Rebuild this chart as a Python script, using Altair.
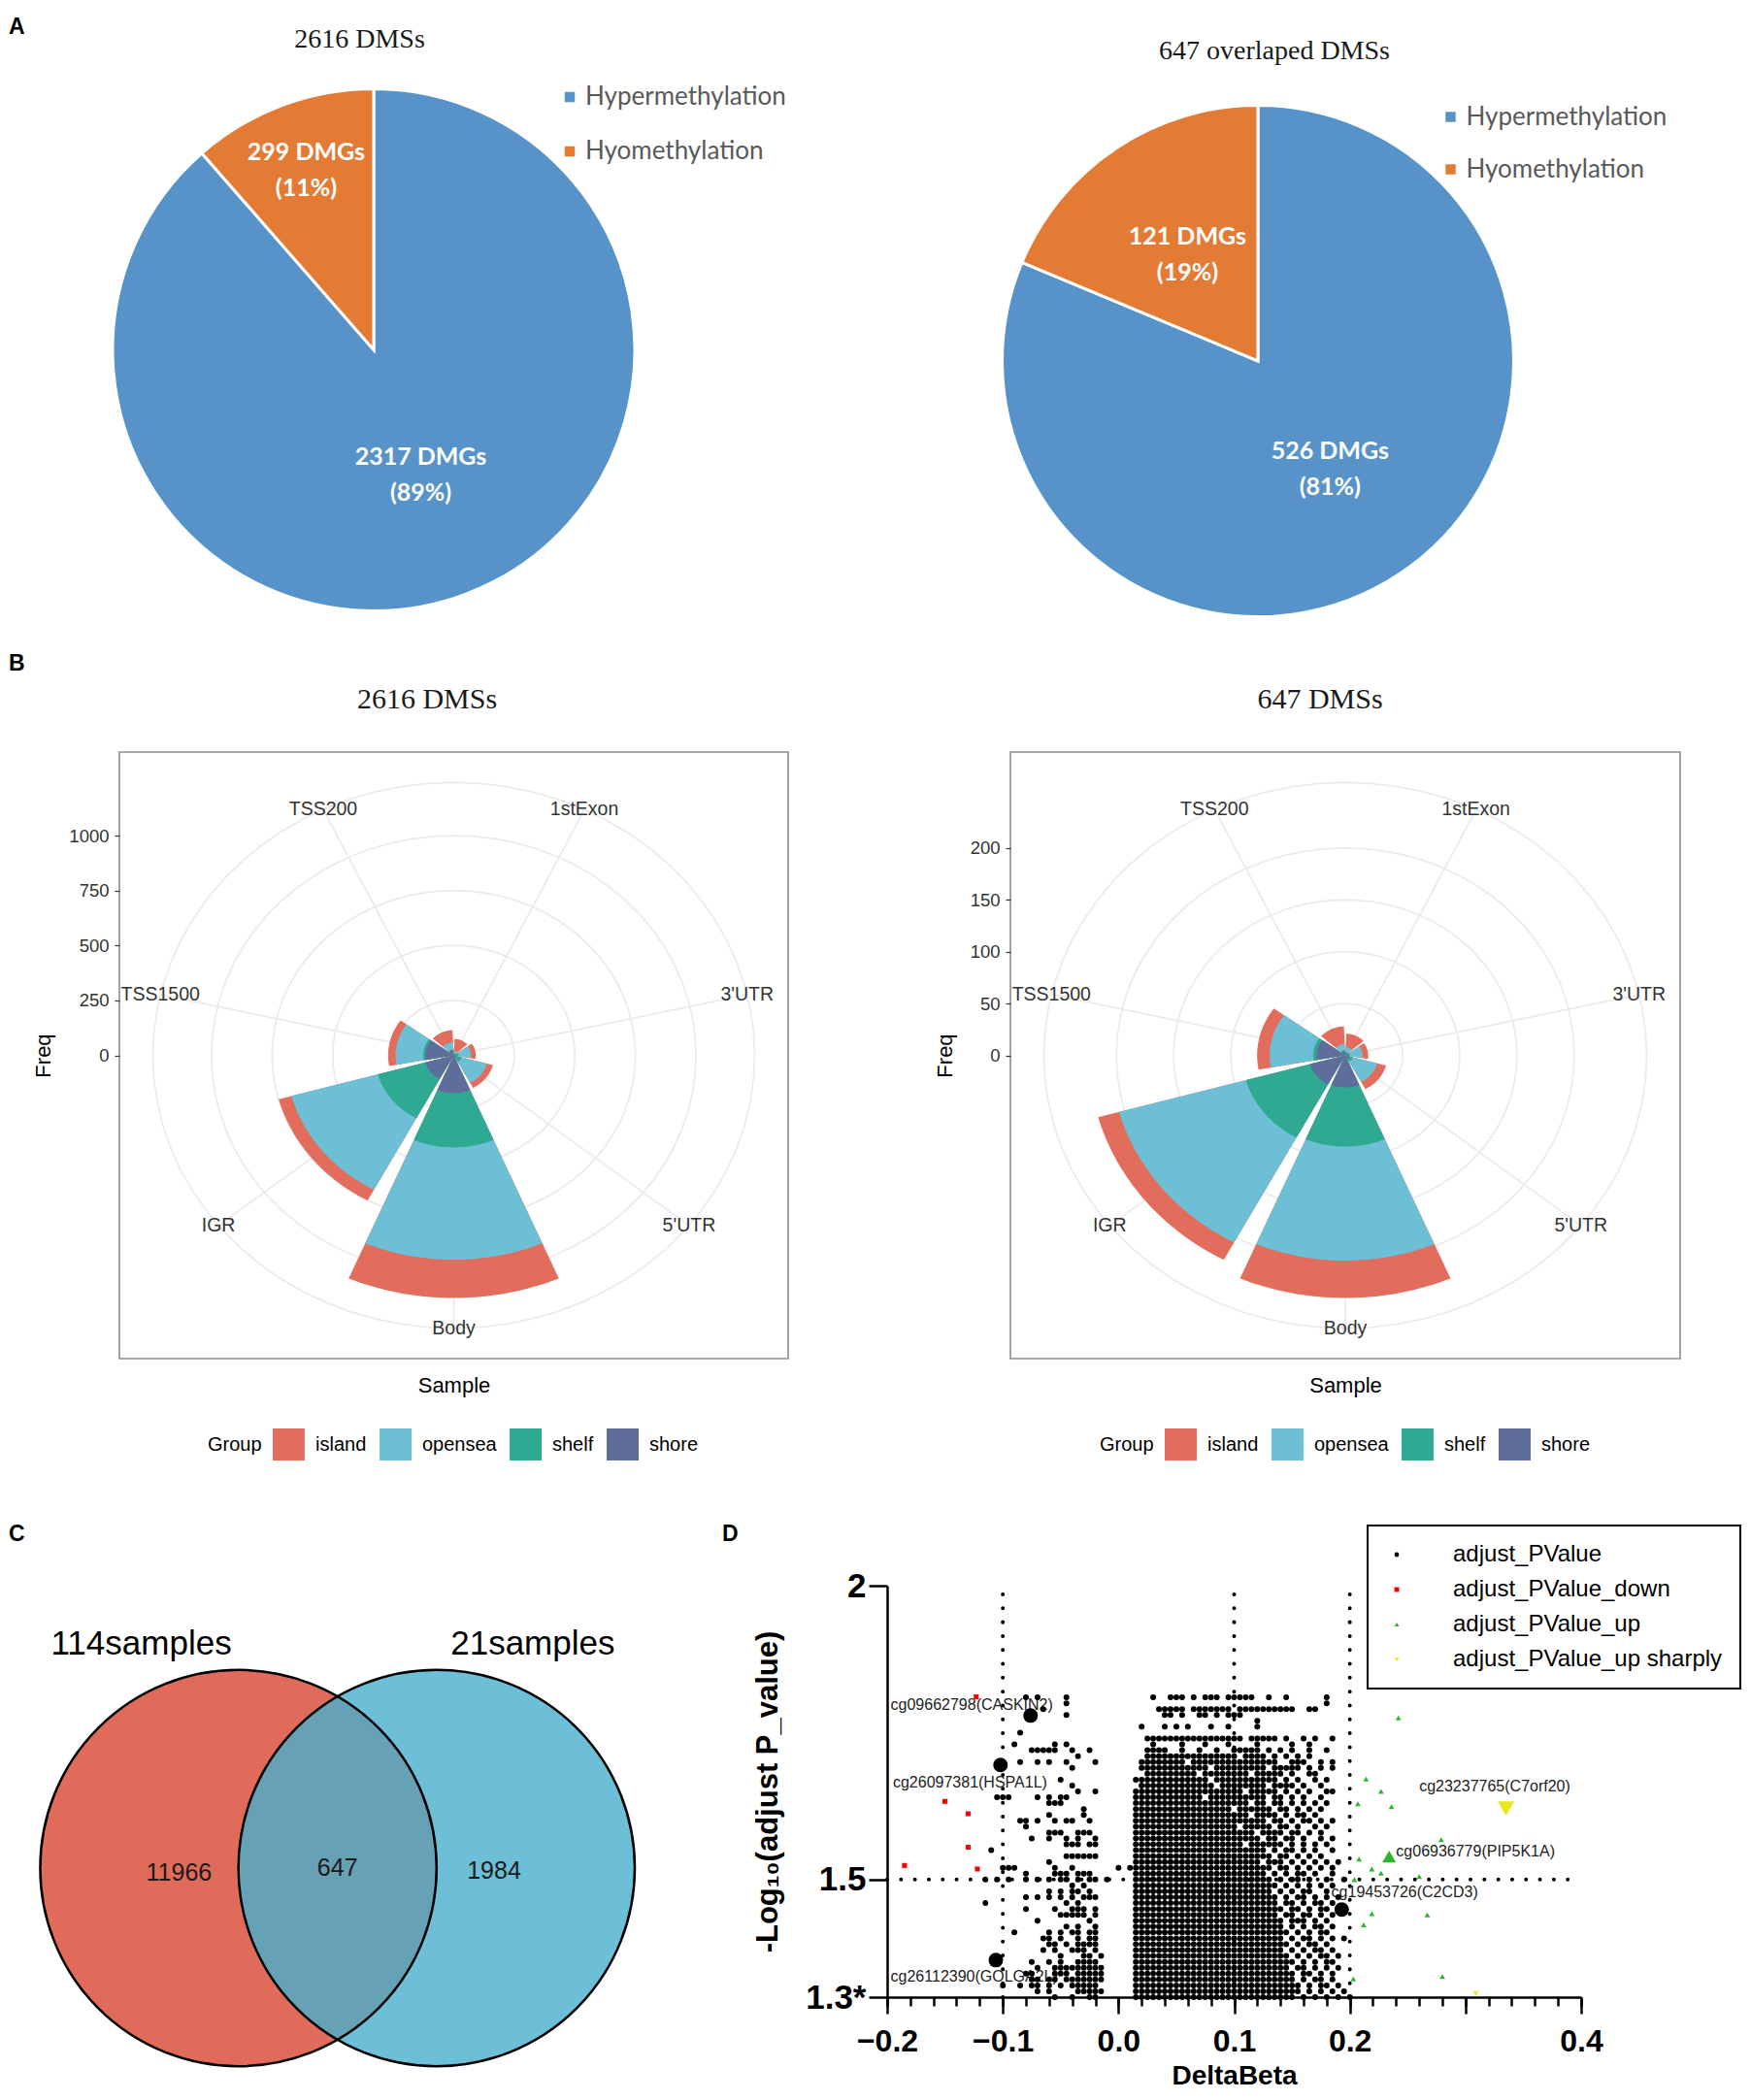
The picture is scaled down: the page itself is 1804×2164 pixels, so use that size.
import altair as alt
import pandas as pd

SANS = "Liberation Sans"
SERIF = "Liberation Serif"
PIEFONT = "Lato"

# ============================ DATA ============================
# ---- A: pie charts ----
pie_categories = ["Hypermethylation", "Hyomethylation"]
pie_counts_2616 = [2317, 299]
pie_counts_647 = [526, 121]
pie_titles = ["2616 DMSs", "647 overlaped DMSs"]

# ---- B: polar stacked bars ----
regions = ["1stExon", "3'UTR", "5'UTR", "Body", "IGR", "TSS1500", "TSS200"]
groups = ["island", "opensea", "shelf", "shore"]
freq_2616 = {
    "shore":   [5, 10, 12, 172, 122, 117, 25],
    "shelf":   [3, 10, 22, 247, 203, 9, 2],
    "opensea": [12, 51, 108, 511, 370, 114, 33],
    "island":  [55, 20, 26, 174, 55, 31, 55],
}
freq_647 = {
    "shore":   [2, 3, 4, 31, 32, 25, 4],
    "shelf":   [1, 1, 3, 57, 58, 3, 1],
    "opensea": [5, 11, 22, 110, 115, 38, 6],
    "island":  [13, 5, 8, 36, 19, 11, 17],
}
freq_ticks_2616 = [0, 250, 500, 750, 1000]
freq_ticks_647 = [0, 50, 100, 150, 200]
polar_titles = ["2616 DMSs", "647 DMSs"]

# ---- C: Venn ----
venn_sets = ["114samples", "21samples"]
venn_counts = [11966, 647, 1984]          # only-114, overlap, only-21

# ---- D: volcano ----
volcano_types = ["adjust_PValue", "adjust_PValue_down", "adjust_PValue_up", "adjust_PValue_up sharply"]
# black points read row by row: -log10(adj p) level, DeltaBeta columns (col c -> -0.125 + 0.005*c)
DB_START, DB_STEP = -0.125, 0.005
volcano_rows = [
    (1.81, "9 11 16 31 34-36 38 40-42 44-48 51 54 61"),
    (1.80, "16 61"),
    (1.79, "12 32-36 38-44 46-55 58 59"),
    (1.78, "16 33 34 36 39 40 42 44-46"),
    (1.77, "49"),
    (1.76, "29 33 35 37 41 44 49"),
    (1.75, "8"),
    (1.74, "30-46 48-52 54 57 59 62"),
    (1.73, "7 14 16 31 36 40 44 49 55 58"),
    (1.72, "10-14 17 20 30-33 36 39 42 45-49 51 53 55 58 61"),
    (1.71, "18 30-45 47-50 52 54 56 58"),
    (1.70, "8 11 13 16 21 29-36 38-52 55-57 60 62"),
    (1.69, "17 29-40 42-50 52-56 58 60 62"),
    (1.68, "30-38 40-47 49-53 55 58 59"),
    (1.67, "15 28-40 42-52 54 56 59 61"),
    (1.66, "17 29-41 43-50 52-55 57 60"),
    (1.65, "18 21 28-46 48-52 54 56 58 61 62"),
    (1.64, "4-6 11 13 15 16 28-39 41-50 52 53 55 57 60"),
    (1.63, "13-15 28-47 49 50 52 53 55 57 59 61"),
    (1.62, "19 28-44 46-51 53 54 56 58 60"),
    (1.61, "13 19 28-47 49-52 54 56 57 59"),
    (1.60, "8 9 11 14 16 17 20 28-50 52 53 55 57 58 60 62"),
    (1.59, "9 28-45 47-51 53 54 56 59 61"),
    (1.58, "13-15 18-20 28-48 50-53 55 56 58 60"),
    (1.57, "10 13 16 18 21 28-49 51 52 54 55 57 60 62"),
    (1.56, "16-18 20 21 28-46 48-53 55 57 59 61"),
    (1.55, "3 28-50 52 54 55 57 59 62"),
    (1.54, "16-21 28-51 53 54 56 58 60"),
    (1.53, "13 28-49 51-53 55 57 59 61 63"),
    (1.52, "5-7 14 17 25 27-51 53 54 56 58 60 62"),
    (1.51, "9 14-16 18-20 28-50 52 54 56 57 59 62"),
    (1.50, "2 4 6 9 11 13 15 16 18 20 21 23 28-51 53 55 56 58 61 64"),
    (1.49, "17 19 28-52 54 56 58 60 62"),
    (1.48, "13 15 17 18 20 28-51 53 55 57 58 61"),
    (1.47, "9 11 13 15 17 19-21 28-52 54 56 57 59 61 63"),
    (1.46, "2 16 18 28-52 54 55 57 59 60 62"),
    (1.45, "9 14 17-19 21 28-53 55 56 58 60 61"),
    (1.44, "15-19 21 28-52 54 55 57 58 60 62"),
    (1.43, "11 20 28-53 55 56 57 59 61"),
    (1.42, "16 18 21 28-53 55 57 59 60 62"),
    (1.41, "7 13 15 17 18 20 21 28-54 56 58 60 61"),
    (1.40, "12 13 15 18 20 21 28-53 55 57 58 60 62 64"),
    (1.39, "13 14 16 18-21 28-54 56 58 59 61"),
    (1.38, "12 14 17-19 21 28-53 55 57 59 60 62"),
    (1.37, "15 19 20 22 28-54 56 58 60 61 63"),
    (1.36, "10 13 15 18-21 28-55 57 59 61 62"),
    (1.35, "11 14-22 28-54 56 57 59 61 63"),
    (1.34, "9 10 14-16 18-22 28-55 57 58 60 62"),
    (1.33, "10 11 13 14 16-22 28-55 57 59 60 62"),
    (1.32, "5 8 10 11 13 15 17-21 28-56 58 60 61 63"),
    (1.31, "11 13 18-22 28-56 58 60 62 64"),
    (1.30, "14 17 20 21 28-55 57 59 61 63 65"),
]
down_delta = [-0.123, -0.150, -0.130, -0.130, -0.122, -0.185]
down_logp = [1.811, 1.633, 1.612, 1.555, 1.518, 1.524]
up_delta = [0.242, 0.214, 0.227, 0.207, 0.236, 0.279, 0.208, 0.219, 0.227, 0.260, 0.204, 0.219, 0.267, 0.212, 0.203, 0.280]
up_logp = [1.775, 1.671, 1.650, 1.629, 1.624, 1.568, 1.535, 1.518, 1.511, 1.505, 1.500, 1.442, 1.440, 1.423, 1.331, 1.335]
sharp_delta = [0.309]
sharp_logp = [1.306]
hl_probe = ["cg09662798(CASKIN2)", "cg26097381(HSPA1L)", "cg26112390(GOLGA2L)",
            "cg19453726(C2CD3)", "cg06936779(PIP5K1A)", "cg23237765(C7orf20)"]
hl_delta = [-0.076, -0.102, -0.106, 0.193, 0.234, 0.335]
hl_logp = [1.779, 1.695, 1.363, 1.449, 1.539, 1.621]
hl_type = ["adjust_PValue", "adjust_PValue", "adjust_PValue", "adjust_PValue",
           "adjust_PValue_up", "adjust_PValue_up sharply"]
vline_delta = [-0.1, 0.1, 0.2]
hline_logp = [1.5]

# ============================ LAYOUT / STYLE ============================
pie_colors = ["#5793C9", "#E47B35"]
group_colors = ["#E26D5C", "#6DBFD5", "#30A993", "#5F6D9B"]
stack_rank = {"shore": 0, "shelf": 1, "opensea": 2, "island": 3}   # centre -> outside
type_colors = ["#000000", "#FF0000", "#2DB52D", "#E8E81E"]
type_shapes = ["circle", "square", "triangle-up", "triangle-down"]
hl_label_x = [-0.197, -0.195, -0.197, 0.184, 0.240, 0.260]
hl_label_y = [1.797, 1.665, 1.334, 1.478, 1.547, 1.658]
venn_colors = ["#E16B5B", "#47AFCC"]
venn_centre_x = [-0.5, 0.5]
venn_name_x = [-0.99, 0.985]
venn_name_y = 1.132
venn_count_x = [-0.80, 0.0, 0.79]
venn_count_y = [-0.025, 0.0, -0.015]
LEFT = -114          # left edge of every row, relative to its first panel


def parse_cols(spec):
    cols = []
    for tok in spec.split():
        if "-" in tok:
            a, b = tok.split("-")
            cols.extend(range(int(a), int(b) + 1))
        else:
            cols.append(int(tok))
    return cols


def one_row():
    return pd.DataFrame({"v": [0]})


def letter_layer(ch, x, y):
    return alt.Chart(pd.DataFrame({"letter": [ch]})).mark_text(
        fontSize=23, fontWeight="bold", align="left", baseline="top", color="black", font=SANS
    ).encode(x=alt.value(x), y=alt.value(y), text="letter:N")


def title_layer(text, x, y, size):
    return alt.Chart(pd.DataFrame({"title": [text]})).mark_text(
        font=SERIF, fontSize=size, align="center", baseline="alphabetic", color="#1a1a1a"
    ).encode(x=alt.value(x), y=alt.value(y), text="title:N")


def extent_layer(x, y_top, y_bottom):
    # invisible rule that fixes the bounding box of a row (left edge, top and bottom)
    return alt.Chart(one_row()).mark_rule(opacity=0, strokeWidth=1).encode(
        x=alt.value(x), y=alt.value(y_top), y2=alt.value(y_bottom))


# ---------------------------- A ----------------------------
def pie_panel(counts, title, width, height, radius, label_r, leg_x, leg_y, row_pad,
              title_xy, extras=()):
    df = pd.DataFrame({"status": pie_categories, "count": counts, "slot": list(range(len(counts)))})
    legend = alt.Legend(title=None, orient="none", legendX=leg_x, legendY=leg_y, labelFont=PIEFONT,
                        labelFontSize=26, labelColor="#595959", symbolType="square", symbolSize=110,
                        symbolStrokeWidth=0, rowPadding=row_pad, labelOffset=3, padding=0,
                        labelLimit=400)
    arcs = alt.Chart(df).mark_arc(radius=radius, stroke="white", strokeWidth=3).encode(
        theta=alt.Theta("count:Q", stack=True), order=alt.Order("slot:Q"),
        color=alt.Color("status:N", scale=alt.Scale(domain=pie_categories, range=pie_colors),
                        legend=legend))
    labels = alt.Chart(df).transform_joinaggregate(total="sum(count)").transform_window(
        cum="sum(count)", sort=[alt.SortField("slot", order="ascending")], frame=[None, 0]
    ).transform_calculate(
        mid="(datum.cum - datum.count / 2) / datum.total * 2 * PI",
        lab="[datum.count + ' DMGs', '(' + round(100 * datum.count / datum.total) + '%)']",
        lr=f"datum.slot == 0 ? {label_r[0]} : {label_r[1]}",
    ).mark_text(font=PIEFONT, fontSize=25, fontWeight="bold", color="white", lineHeight=37,
                dy=-18.5).encode(
        theta=alt.Theta("mid:Q", scale=None, stack=None),
        radius=alt.Radius("lr:Q", scale=None, stack=None),
        text="lab:N")
    layers = [arcs, labels, title_layer(title, title_xy[0], title_xy[1], 28)] + list(extras)
    return alt.layer(*layers).properties(width=width, height=height)


# ---------------------------- B ----------------------------
def polar_panel(freq, ticks, title, width, height, title_xy, leg_x, leg_y, extras=()):
    recs = []
    for g in groups:
        for k, reg in enumerate(regions):
            recs.append({"region": reg, "k": k, "group": g, "rank": stack_rank[g], "freq": freq[g][k]})
    df = pd.DataFrame(recs)
    totals = [sum(freq[g][k] for g in groups) for k in range(len(regions))]
    rmax = float(max(totals))
    lim = 1.25 * rmax
    rout = 1.125 * rmax
    n = len(regions)
    xs = alt.Scale(domain=[-lim, lim], nice=False, zero=False)
    ys = alt.Scale(domain=[-lim, lim], nice=False, zero=False)
    cscale = alt.Scale(domain=groups, range=group_colors)

    x_axis = alt.Axis(title="Sample", labels=False, ticks=False, domain=False, grid=False,
                      titleFontSize=22, titleFontWeight="normal", titleColor="black", titlePadding=17)
    y_axis = alt.Axis(values=ticks, format="d", title="Freq", grid=False, domain=False,
                      tickColor="#333333", tickSize=5, tickWidth=1.2, labelColor="#333333",
                      labelFontSize=18.5, labelPadding=6, labelFlush=False, titleFontSize=22,
                      titleFontWeight="normal", titleColor="black", titlePadding=14)
    legend = alt.Legend(title="Group", orient="none", legendX=leg_x, legendY=leg_y,
                        direction="horizontal", columns=4, titleOrient="left", titleAnchor="middle",
                        titleBaseline="middle", titleFontSize=20, titleFontWeight="normal",
                        titleColor="black", titlePadding=11, labelFontSize=20, labelColor="black",
                        labelOffset=11, columnPadding=13, symbolType="square", symbolSize=1089,
                        symbolOpacity=1, symbolStrokeWidth=0, padding=0, labelLimit=300)

    rings = alt.Chart(pd.DataFrame({"r": [t for t in ticks if t > 0] + [rout]})).transform_calculate(
        t="sequence(0, 73)"
    ).transform_flatten(["t"]).transform_calculate(
        px="datum.r * sin(datum.t * PI / 36)"
    ).transform_calculate(
        py="datum.r * cos(datum.t * PI / 36)"
    ).mark_line(color="#EBEBEB", strokeWidth=1.8).encode(
        x=alt.X("px:Q", scale=xs, axis=x_axis),
        y=alt.Y("py:Q", scale=ys, axis=y_axis),
        detail="r:Q", order="t:Q")

    reg_df = pd.DataFrame({"region": regions, "k": list(range(n))})
    spoke_base = alt.Chart(reg_df).transform_calculate(
        a=f"(datum.k + 0.5) * 2 * PI / {n}"
    ).transform_calculate(
        ex=f"{rout} * sin(datum.a)"
    ).transform_calculate(
        ey=f"{rout} * cos(datum.a)"
    ).transform_calculate(zero="0")
    spokes = spoke_base.mark_rule(color="#EBEBEB", strokeWidth=1.8).encode(
        x=alt.X("zero:Q", scale=xs, axis=x_axis), y=alt.Y("zero:Q", scale=ys, axis=y_axis),
        x2="ex:Q", y2="ey:Q")
    cat_labels = spoke_base.mark_text(fontSize=19.5, color="#333333").encode(
        x=alt.X("ex:Q", scale=xs, axis=x_axis), y=alt.Y("ey:Q", scale=ys, axis=y_axis),
        text="region:N")

    wedges = []
    for g in ["island", "opensea", "shelf", "shore"]:
        w = alt.Chart(df).transform_window(
            cum="sum(freq)", groupby=["region"], sort=[alt.SortField("rank", order="ascending")],
            frame=[None, 0]
        ).transform_filter(alt.datum.group == g).transform_calculate(
            t="sequence(0, 42)"
        ).transform_flatten(["t"]).transform_calculate(
            a=f"(datum.k + 0.05 + 0.9 * (datum.t - 1) / 40) * 2 * PI / {n}"
        ).transform_calculate(
            px="datum.t == 0 ? 0 : datum.cum * sin(datum.a)"
        ).transform_calculate(
            py="datum.t == 0 ? 0 : datum.cum * cos(datum.a)"
        ).mark_line(filled=True, interpolate="linear-closed").encode(
            x=alt.X("px:Q", scale=xs, axis=x_axis), y=alt.Y("py:Q", scale=ys, axis=y_axis),
            color=alt.Color("group:N", scale=cscale, legend=legend),
            detail="region:N", order="t:Q")
        wedges.append(w)

    layers = [rings, spokes] + wedges + [cat_labels, title_layer(title, title_xy[0], title_xy[1], 30)]
    layers += list(extras)
    return alt.layer(*layers).properties(
        width=width, height=height,
        view=alt.ViewBackground(stroke="#8C8C8C", strokeWidth=1.6))


# ---------------------------- C ----------------------------
def venn_panel(width, height, extras=()):
    xdom = [-1.1005, 1.5]
    ydom = [-1.005, 1.4265]
    px_per_unit = width / (xdom[1] - xdom[0])
    size = (2 * 1.0 * px_per_unit) ** 2
    xs = alt.Scale(domain=xdom, nice=False, zero=False)
    ys = alt.Scale(domain=ydom, nice=False, zero=False)
    cdf = pd.DataFrame({"set": venn_sets, "cx": venn_centre_x, "cy": [0.0, 0.0]})
    enc = dict(x=alt.X("cx:Q", scale=xs, axis=None), y=alt.Y("cy:Q", scale=ys, axis=None))
    red = alt.Chart(cdf).transform_filter(alt.datum.set == venn_sets[0]).mark_circle(
        size=size, color=venn_colors[0], opacity=1).encode(**enc)
    blue = alt.Chart(cdf).transform_filter(alt.datum.set == venn_sets[1]).mark_circle(
        size=size, color=venn_colors[1], opacity=0.8).encode(**enc)
    outline = alt.Chart(cdf).mark_point(shape="circle", filled=False, size=size, color="black",
                                        strokeWidth=2.5, opacity=1).encode(**enc)
    ndf = pd.DataFrame({"name": venn_sets, "x": venn_name_x, "y": [venn_name_y] * 2})
    names = alt.Chart(ndf).mark_text(fontSize=35, color="black").encode(
        x=alt.X("x:Q", scale=xs, axis=None), y=alt.Y("y:Q", scale=ys, axis=None), text="name:N")
    kdf = pd.DataFrame({"count": venn_counts, "x": venn_count_x, "y": venn_count_y})
    counts = alt.Chart(kdf).mark_text(fontSize=25, color="#1a1a1a").encode(
        x=alt.X("x:Q", scale=xs, axis=None), y=alt.Y("y:Q", scale=ys, axis=None), text="count:N")
    layers = [red, blue, outline, names, counts] + list(extras)
    return alt.layer(*layers).properties(width=width, height=height)


# ---------------------------- D ----------------------------
def volcano_panel(width, height, extras=()):
    recs = []
    for yv, spec in volcano_rows:
        for c in parse_cols(spec):
            recs.append({"delta": round(DB_START + DB_STEP * c, 4), "logp": yv, "type": volcano_types[0]})
    for d, p in zip(down_delta, down_logp):
        recs.append({"delta": d, "logp": p, "type": volcano_types[1]})
    for d, p in zip(up_delta, up_logp):
        recs.append({"delta": d, "logp": p, "type": volcano_types[2]})
    for d, p in zip(sharp_delta, sharp_logp):
        recs.append({"delta": d, "logp": p, "type": volcano_types[3]})
    pts = pd.DataFrame(recs)
    hl = pd.DataFrame({"probe": hl_probe, "delta": hl_delta, "logp": hl_logp, "type": hl_type})
    lab = pd.DataFrame({"probe": hl_probe, "lx": hl_label_x, "ly": hl_label_y})
    gx, gx2, gy, gy2 = [], [], [], []
    for v in vline_delta:
        gx.append(v); gx2.append(v); gy.append(1.3); gy2.append(2.0)
    for h in hline_logp:
        gx.append(-0.2); gx2.append(0.4); gy.append(h); gy2.append(h)
    guides = pd.DataFrame({"x": gx, "x2": gx2, "y": gy, "y2": gy2})

    xs = alt.Scale(domain=[-0.2, 0.4], nice=False, zero=False)
    ys = alt.Scale(domain=[1.3, 2.0], nice=False, zero=False)
    cscale = alt.Scale(domain=volcano_types, range=type_colors)
    sscale = alt.Scale(domain=volcano_types, range=type_shapes)

    major_x = alt.Axis(values=[-0.2, -0.1, 0.0, 0.1, 0.2, 0.3, 0.4],
                       labelExpr="abs(datum.value - 0.3) < 0.001 ? '' : format(datum.value, '.1f')",
                       orient="bottom", grid=False, tickSize=17, tickWidth=2.5, tickColor="black",
                       domainColor="black", domainWidth=2.5, labelFont=SANS, labelFontSize=32,
                       labelFontWeight="bold", labelColor="black", labelPadding=13, labelFlush=False,
                       title="DeltaBeta", titleFont=SANS, titleFontSize=28, titleFontWeight="bold",
                       titleColor="black", titlePadding=6)
    minor_x = alt.Axis(values=[round(-0.2 + 0.02 * i, 2) for i in range(31)], orient="bottom",
                       grid=False, labels=False, domain=False, tickSize=9, tickWidth=2.5,
                       tickColor="black", title=None)
    y_ax = alt.Axis(values=[1.3, 1.5, 2.0],
                    labelExpr="datum.value > 1.9 ? '2' : (datum.value > 1.4 ? '1.5' : '1.3*')",
                    grid=False, tickSize=19, tickWidth=2.5, tickColor="black", domainColor="black",
                    domainWidth=2.5, labelFont=SANS, labelFontSize=35, labelFontWeight="bold",
                    labelColor="black", labelPadding=3, labelFlush=False,
                    title="-Log\u2081\u2080(adjust P_value)", titleFont=SANS, titleFontSize=31,
                    titleFontWeight="bold", titleColor="black", titlePadding=22)
    vleg = alt.Legend(title=None, orient="none", legendX=495, legendY=-62, direction="vertical",
                      strokeColor="black", fillColor="white", padding=18, labelFont=SANS,
                      labelFontSize=24, labelColor="black", labelOffset=46, rowPadding=12,
                      symbolSize=24, symbolStrokeWidth=0, symbolOpacity=1, labelLimit=400)

    rules = alt.Chart(guides).mark_rule(color="black", strokeWidth=4, strokeDash=[0.01, 14.3],
                                        strokeCap="round").encode(
        x=alt.X("x:Q", scale=xs, axis=minor_x), x2="x2:Q",
        y=alt.Y("y:Q", scale=ys, axis=y_ax), y2="y2:Q")
    texts = alt.Chart(lab).mark_text(align="left", baseline="middle", fontSize=16,
                                     color="#222222").encode(
        x=alt.X("lx:Q", scale=xs, axis=None), y=alt.Y("ly:Q", scale=ys, axis=y_ax), text="probe:N")
    points = alt.Chart(pts).transform_calculate(
        sz="datum.type == 'adjust_PValue' ? 36 : (datum.type == 'adjust_PValue_down' ? 26 : 34)"
    ).mark_point(filled=True, opacity=1, strokeWidth=0).encode(
        x=alt.X("delta:Q", scale=xs, axis=major_x),
        y=alt.Y("logp:Q", scale=ys, axis=y_ax),
        color=alt.Color("type:N", scale=cscale, legend=vleg),
        shape=alt.Shape("type:N", scale=sscale, legend=vleg),
        size=alt.Size("sz:Q", scale=None, legend=None))
    highlights = alt.Chart(hl).transform_calculate(
        sz="datum.type == 'adjust_PValue' ? 225 : (datum.type == 'adjust_PValue_up' ? 200 : 290)"
    ).mark_point(filled=True, opacity=1, strokeWidth=0).encode(
        x=alt.X("delta:Q", scale=xs, axis=None),
        y=alt.Y("logp:Q", scale=ys, axis=y_ax),
        color=alt.Color("type:N", scale=cscale, legend=vleg),
        shape=alt.Shape("type:N", scale=sscale, legend=vleg),
        size=alt.Size("sz:Q", scale=None, legend=None))
    layers = [rules, texts, points, highlights] + list(extras)
    return alt.layer(*layers).resolve_axis(x="independent").properties(width=width, height=height)


# ============================ ASSEMBLY ============================
pie_left = pie_panel(pie_counts_2616, pie_titles[0], 524, 531, 269, (138, 198), 451, -8, 30,
                     (247.5, -46.5),
                     extras=[letter_layer("A", LEFT, -78), extent_layer(LEFT, -87, 560)])
pie_right = pie_panel(pie_counts_647, pie_titles[1], 526, 554, 263.5, (134, 131), 448.5, 12.5, 28,
                      (280, -34))
polar_left = polar_panel(freq_2616, freq_ticks_2616, polar_titles[0], 689, 625, (317, -45), 91, 697,
                         extras=[letter_layer("B", LEFT, -102), extent_layer(LEFT, -111, 760)])
polar_right = polar_panel(freq_647, freq_ticks_647, polar_titles[1], 690, 625, (319, -45), 92, 697)
venn = venn_panel(531, 496, extras=[letter_layer("C", LEFT, -64), extent_layer(LEFT, -73, 10)])
volcano = volcano_panel(715, 424, extras=[letter_layer("D", -170, -64)])


def indep(c):
    return c.resolve_scale(color="independent", shape="independent").resolve_legend(
        color="independent", shape="independent")


row_a = indep(alt.hconcat(pie_left, pie_right, spacing=386, bounds="flush"))
row_b = indep(alt.hconcat(polar_left, polar_right, spacing=229, bounds="flush"))
row_c = indep(alt.hconcat(venn, volcano, spacing=260, bounds="flush"))
upper = indep(alt.vconcat(row_a, row_b, spacing=8))
chart = indep(alt.vconcat(upper, row_c, spacing=25)).properties(
    padding=0
).configure(font=SANS).configure_view(stroke=None).configure_legend(strokeWidth=2)

chart.save("out.html", embed_options={"renderer": "svg", "actions": False})
